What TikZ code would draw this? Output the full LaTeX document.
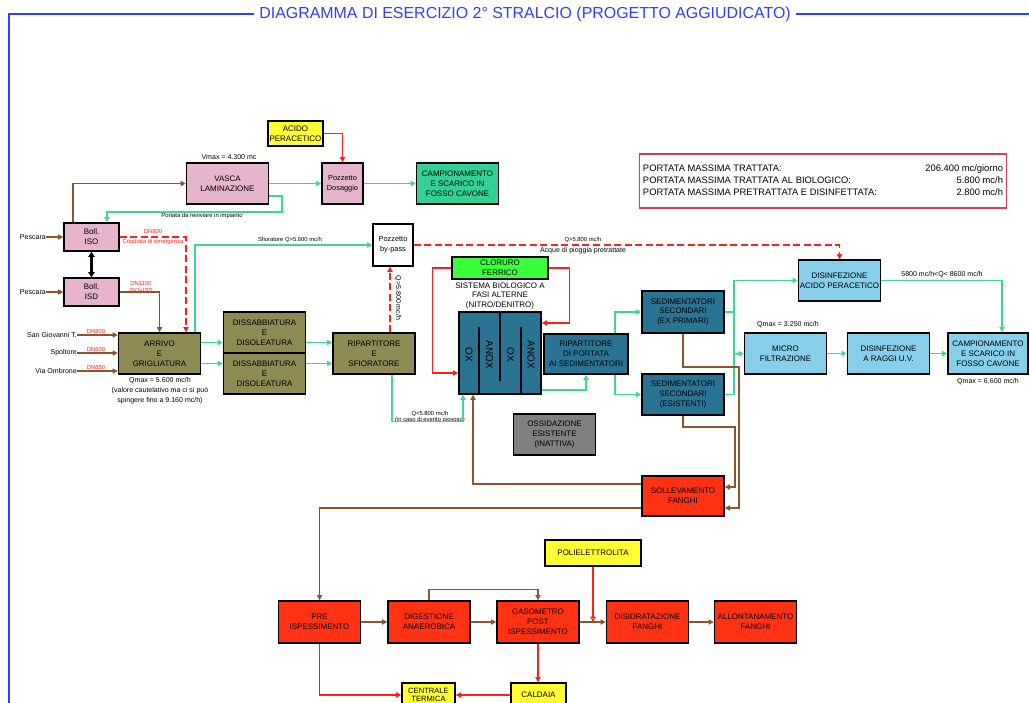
\documentclass[tikz,border=0pt]{standalone}
\usepackage{fontspec}
\setmainfont{Liberation Sans}
\usetikzlibrary{arrows.meta, positioning}

\definecolor{brownline}{RGB}{140,85,45}
\definecolor{tealline}{RGB}{60,215,150}
\definecolor{redline}{RGB}{255,30,30}
\definecolor{pinkbox}{RGB}{230,180,205}
\definecolor{olivebox}{RGB}{142,138,84}
\definecolor{bluebox}{RGB}{43,115,147}
\definecolor{skybox}{RGB}{135,206,235}
\definecolor{sludgebox}{RGB}{255,50,20}
\definecolor{yellowbox}{RGB}{255,255,50}
\definecolor{greenbox}{RGB}{60,255,60}
\definecolor{outletbox}{RGB}{50,210,150}
\definecolor{titleblue}{RGB}{50,60,255}
\definecolor{infored}{RGB}{210,60,85}

\newcommand{\boxfont}{\fontsize{6.8}{8.5}\selectfont}
\newcommand{\notefont}{\fontsize{6}{8.5}\selectfont}
\newcommand{\tinyfont}{\fontsize{5}{7.5}\selectfont}

\begin{document}
\begin{tikzpicture}[x=0.03cm, y=-0.03cm,
  blk/.style={draw, line width=1.2pt, minimum width=2.46cm, minimum height=1.23cm, align=center, font=\boxfont, inner sep=1pt},
  tag/.style={draw, line width=1.2pt, minimum width=1.65cm, minimum height=0.75cm, align=center, font=\boxfont, inner sep=1pt},
  lbl/.style={font=\notefont, align=center, inner sep=0pt},
  tny/.style={font=\tinyfont, align=center, inner sep=0pt},
  dn/.style={font=\tinyfont, text=redline, align=center, inner sep=0pt},
  brw/.style={draw=brownline, line width=1.3pt, -{Triangle[length=4.5pt,width=4.5pt]}},
  grn/.style={draw=tealline, line width=1.3pt, -{Triangle[length=4.5pt,width=4.5pt]}},
  rd/.style={draw=redline, line width=1pt, -{Triangle[length=4.5pt,width=4.5pt]}},
  rdd/.style={rd, dash pattern=on 6pt off 3pt},
]
\useasboundingbox (0,0) rectangle (1029,703);

\node[font=\fontsize{13.6}{15}\selectfont, text=titleblue, inner sep=4pt] (title) at (525,14) {DIAGRAMMA DI ESERCIZIO 2° STRALCIO (PROGETTO AGGIUDICATO)};
\draw[titleblue, line width=1.6pt] (title.west) -- (9,14) -- (9,703);
\draw[titleblue, line width=1.6pt] (title.east) -- (1029,14);

\node[draw=infored, line width=1.3pt, inner sep=3pt, minimum height=1.62cm, font=\fontsize{8}{10.6}\selectfont] (info) at (823,181) {%
\begin{tabular*}{10.8cm}{@{}l@{\extracolsep{\fill}}r@{}}
PORTATA MASSIMA TRATTATA: & 206.400 mc/giorno\\
PORTATA MASSIMA TRATTATA AL BIOLOGICO: & 5.800 mc/h\\
PORTATA MASSIMA PRETRATTATA E DISINFETTATA: & 2.800 mc/h
\end{tabular*}};

\node[tag, fill=yellowbox] (acido) at (295.5,133.5) {ACIDO\\PERACETICO};
\node[blk, fill=pinkbox] (vasca) at (227.5,183.5) {VASCA\\LAMINAZIONE};
\node[lbl] (vmax) at (229,157) {Vmax = 4.300 mc};
\node[blk, fill=pinkbox, minimum width=1.23cm, font=\fontsize{6.3}{8.5}\selectfont] (dosaggio) at (342.5,183.5) {Pozzetto\\Dosaggio};
\node[blk, fill=outletbox] (scaricoA) at (457.5,183.5) {CAMPIONAMENTO\\E SCARICO IN\\FOSSO CAVONE};

\node[tag, fill=pinkbox, minimum height=0.84cm] (iso) at (91.5,237) {Boll.\\ISO};
\node[tag, fill=pinkbox, minimum height=0.84cm] (isd) at (91.5,292) {Boll.\\ISD};
\node[lbl, anchor=east] (pescA) at (46,237) {Pescara};
\node[lbl, anchor=east] (pescB) at (46,292) {Pescara};

\node[blk, fill=olivebox] (arrivo) at (159.5,353.5) {ARRIVO\\E\\GRIGLIATURA};
\node[lbl] (qarrivo) at (160,391) {Qmax = 5.600 mc/h\\(valore cautelativo ma ci si può\\spingere fino a 9.160 mc/h)};
\node[lbl, anchor=east] (sgt) at (77,335) {San Giovanni T.};
\node[lbl, anchor=east] (spolt) at (77,353) {Spoltore};
\node[lbl, anchor=east] (vomb) at (77,371) {Via Ombrone};
\node[dn] (dnA) at (96,331) {DN800};
\node[dn] (dnB) at (96,349) {DN600};
\node[dn] (dnC) at (96,367) {DN650};
\node[dn] (dnD) at (153,231) {DN800};
\node[dn] (dnE) at (153,242) {Condotta di emergenza};
\node[dn] (dnF) at (141,287) {DN1100\\[-2pt]ISO+ISD};

\node[blk, fill=olivebox] (dissA) at (264.5,332.5) {DISSABBIATURA\\E\\DISOLEATURA};
\node[blk, fill=olivebox] (dissB) at (264.5,373.5) {DISSABBIATURA\\E\\DISOLEATURA};
\node[blk, fill=olivebox] (ripart) at (374,353.5) {RIPARTITORE\\E\\SFIORATORE};
\node[blk, fill=white, minimum width=1.2cm, minimum height=1.26cm, font=\fontsize{6.3}{8.5}\selectfont] (bypass) at (393,245) {Pozzetto\\by-pass};
\node[tny] (sfioro) at (290,240) {Sfioratore Q>5.600 mc/h};
\node[tny] (reinvio) at (202,216) {Portata da reinviare in impianto};
\node[lbl, rotate=-90] (qbypass) at (398,298) {Q>5.800 mc/h};
\node[tny] (qpioggia) at (583,239.5) {Q>5.800 mc/h};
\node[lbl] (pioggia) at (583,251) {Acque di pioggia pretrattate};
\node[tny] (qpiovoso) at (430,417) {Q<5.800 mc/h\\[-2pt](in caso di evento piovoso)};

\node[blk, fill=greenbox, minimum width=2.88cm, minimum height=0.66cm] (cloruro) at (500,268) {CLORURO\\FERRICO};
\node[align=center, inner sep=0pt, font=\fontsize{6.8}{7.8}\selectfont] (biolbl) at (500,296) {SISTEMA BIOLOGICO A\\FASI ALTERNE\\(NITRO/DENITRO)};
\node[blk, fill=bluebox, minimum width=2.46cm, minimum height=2.46cm] (bio) at (500,353) {};
\draw[line width=1.2pt] (bio.north) -- ++(0,70);
\foreach \dx in {-21,21}
  \draw[line width=1.2pt] ([shift={(\dx,0)}]bio.south) -- ++(0,-68);
\foreach \i/\dx/\txt in {1/-31/OX,2/-10.5/ANOX,3/10.5/OX,4/31/ANOX}
  \node[rotate=-90, font=\fontsize{8.5}{9}\selectfont] (zone\i) at ([shift={(\dx,2)}]bio.center) {\txt};

\node[blk, fill=bluebox, minimum width=2.52cm, minimum height=1.2cm] (ripsed) at (586,354) {RIPARTITORE\\DI PORTATA\\AI SEDIMENTATORI};
\node[blk, fill=bluebox, minimum height=1.26cm] (sedEx) at (683,312) {SEDIMENTATORI\\SECONDARI\\(EX PRIMARI)};
\node[blk, fill=bluebox] (sedEs) at (683,394.5) {SEDIMENTATORI\\SECONDARI\\(ESISTENTI)};
\node[blk, fill=gray] (oss) at (554.5,434.5) {OSSIDAZIONE\\ESISTENTE\\(INATTIVA)};

\node[blk, fill=skybox] (disac) at (839.5,280.5) {DISINFEZIONE\\ACIDO PERACETICO};
\node[blk, fill=skybox] (micro) at (785.5,353.5) {MICRO\\FILTRAZIONE};
\node[lbl] (qmicro) at (788,325) {Qmax = 3.250 mc/h};
\node[blk, fill=skybox] (uv) at (888.5,353.5) {DISINFEZIONE\\A RAGGI U.V.};
\node[blk, fill=skybox, minimum width=2.4cm] (scaricoB) at (988,353.5) {CAMPIONAMENTO\\E SCARICO IN\\FOSSO CAVONE};
\node[lbl] (qscarico) at (988,382) {Qmax = 6.600 mc/h};
\node[lbl] (qdisac) at (942,275) {5800 mc/h<Q< 8600 mc/h};

\node[blk, fill=sludgebox, minimum height=1.2cm] (soll) at (683,496) {SOLLEVAMENTO\\FANGHI};
\node[tag, fill=yellowbox, minimum width=2.88cm, minimum height=0.78cm] (poli) at (593,553) {POLIELETTROLITA};
\node[blk, fill=sludgebox, minimum height=1.26cm] (pre) at (319.5,622) {PRE\\ISPESSIMENTO};
\node[blk, fill=sludgebox, minimum height=1.26cm] (dig) at (429,622) {DIGESTIONE\\ANAEROBICA};
\node[blk, fill=sludgebox, minimum height=1.26cm] (gas) at (538,622) {GASOMETRO\\POST\\ISPESSIMENTO};
\node[blk, fill=sludgebox, minimum height=1.26cm] (disid) at (647.5,622) {DISIDRATAZIONE\\FANGHI};
\node[blk, fill=sludgebox, minimum height=1.26cm] (allont) at (755.5,622) {ALLONTANAMENTO\\FANGHI};
\node[tag, fill=yellowbox, minimum width=1.59cm, minimum height=0.72cm, font=\fontsize{6.5}{7.2}\selectfont] (centrale) at (428.5,695) {CENTRALE\\TERMICA};
\node[tag, fill=yellowbox, minimum height=0.72cm] (caldaia) at (538.5,695) {CALDAIA};

\draw[brw] (pescA) -- (iso);
\draw[brw] (pescB) -- (isd);
\draw[line width=1.8pt, {Triangle[length=4.5pt,width=5.5pt]}-{Triangle[length=4.5pt,width=5.5pt]}] (iso) -- (isd);
\draw[brw] ([shift={(-18.5,0)}]iso.north) |- (vasca.west);
\draw[grn] (vasca) -- (dosaggio);
\draw[grn] (dosaggio) -- (scaricoA);
\draw[rd] (acido.east) -| (dosaggio.north);
\draw[grn] ([shift={(0,12.5)}]vasca.east) -| (282,212) -| ([shift={(15.5,0)}]iso.north);
\draw[rdd] (iso.east) -| ([shift={(26.5,0)}]arrivo.north);
\draw[brw] (isd.east) -| (arrivo.north);
\draw[grn] ([shift={(35.5,0)}]arrivo.north) |- (bypass.west);
\draw[brw] (sgt.east) -- (sgt.east -| arrivo.west);
\draw[brw] (spolt.east) -- (spolt.east -| arrivo.west);
\draw[brw] (vomb.east) -- (vomb.east -| arrivo.west);

\draw[grn] ([shift={(0,-11)}]arrivo.east) -- ([shift={(0,-11)}]arrivo.east -| dissA.west);
\draw[grn] ([shift={(0,10)}]arrivo.east) -- ([shift={(0,10)}]arrivo.east -| dissB.west);
\draw[grn] ([shift={(0,-11)}]ripart.west -| dissA.east) -- ([shift={(0,-11)}]ripart.west);
\draw[grn] ([shift={(0,10)}]ripart.west -| dissB.east) -- ([shift={(0,10)}]ripart.west);
\draw[rdd] ([shift={(16,0)}]ripart.north) -- ([shift={(-3,0)}]bypass.south);
\draw[rdd] (bypass.east) -| (disac.north);
\draw[grn] ([shift={(18,0)}]ripart.south) |- ([shift={(-37,27)}]bio.south) -- ([shift={(-37,0)}]bio.south);

\draw[rd] (cloruro.west) -| ([shift={(-26,20)}]bio.west) -- ([shift={(0,20)}]bio.west);
\draw[rd] (cloruro.east) -| ([shift={(28,-30)}]bio.east) -- ([shift={(0,-30)}]bio.east);
\draw[grn] ([shift={(0,37)}]bio.east) -| (ripsed.south);
\draw[grn] ([shift={(29,0)}]ripsed.north) |- (sedEx.west);
\draw[grn] ([shift={(29,0)}]ripsed.south) |- (sedEs.west);

\coordinate (jn) at (734,354);
\draw[tealline, line width=1.3pt] (sedEx.east) -| (jn) |- (sedEs.east);
\draw[grn] (jn) -- (micro.west);
\draw[grn] (jn) |- (disac.west);
\draw[grn] (micro) -- (uv);
\draw[grn] (uv) -- (scaricoB);
\draw[grn] (disac.east) -| ([shift={(14,0)}]scaricoB.north);

\draw[brw] (sedEx.south) |- (739,367) |- ([shift={(0,12)}]soll.east);
\draw[brw] (sedEs.south) |- (735,427) |- ([shift={(0,-9)}]soll.east);
\draw[brw] ([shift={(0,-12)}]soll.west) -| ([shift={(-27,0)}]bio.south);
\draw[brw] ([shift={(0,12)}]soll.west) -| (pre.north);

\draw[brw] (pre) -- (dig);
\draw[brw] (dig) -- (gas);
\draw[brw] (gas) -- (disid);
\draw[brw] (disid) -- (allont);
\draw[draw=brownline, line width=1.3pt, -{Triangle[open,length=4.5pt,width=4.5pt]}] (dig.north) -- ++(0,-11) -| (gas.north);
\draw[draw=redline, line width=1pt, -{Triangle[open,length=4.5pt,width=4.5pt]}] (poli.south) -- (poli.south |- gas.east);
\draw[rd] (gas.south) -- (gas.south |- caldaia.north);
\draw[rd] (caldaia.west) -- (centrale.east);
\draw[rd] (pre.south) |- (centrale.west);

\end{tikzpicture}
\end{document}
